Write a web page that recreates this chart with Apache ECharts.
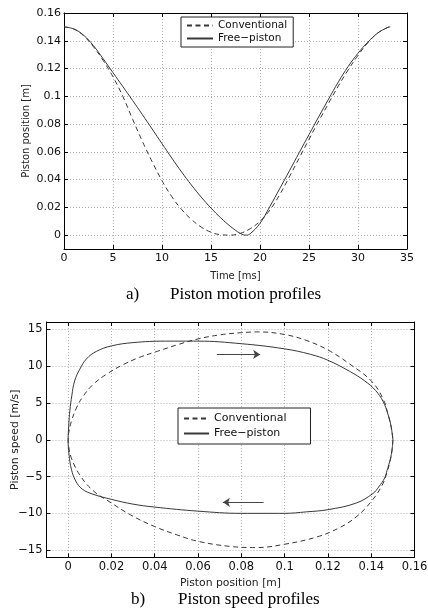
<!DOCTYPE html>
<html><head><meta charset="utf-8">
<script src="https://cdn.jsdelivr.net/npm/echarts@6/dist/echarts.min.js"></script>
<style>html,body{margin:0;padding:0;background:#fff}#c{width:428px;height:613px}</style>
</head><body><div id="c"></div>
<script>
// ---- Data: a) piston motion profiles ----
const convTime = [0,1,2,3,4,5,6,7,8,9,10,11,12,13,14,15,16,17,18,19,20,21,22,23,24,25,26,27,28,29,30,31,32,33,33.3];
const convPos  = [0.150,0.1485,0.1436,0.1357,0.1258,0.1140,0.1000,0.0835,0.0675,0.0528,0.0392,0.0277,0.0185,0.0113,0.0058,0.0021,0.0003,0.0000,0.0013,0.0046,0.0100,0.0180,0.0290,0.0420,0.0555,0.0690,0.0822,0.0950,0.1075,0.1190,0.1295,0.1385,0.1455,0.1495,0.150];
const freeTime = [0,1,2,3,4,5,6,7,8,9,10,11,12,13,14,15,16,17,18,18.6,19,20,21,22,23,24,25,26,27,28,29,30,31,32,33,33.3];
const freePos  = [0.150,0.1485,0.1440,0.1365,0.1270,0.1170,0.1070,0.0970,0.0868,0.0764,0.0659,0.0555,0.0455,0.0361,0.0274,0.0195,0.0124,0.0062,0.0012,0.0000,0.0010,0.0085,0.0205,0.0333,0.0463,0.0594,0.0724,0.0854,0.0980,0.1104,0.1215,0.1310,0.1390,0.1455,0.1495,0.150];
const posTicks = [0,0.02,0.04,0.06,0.08,0.1,0.12,0.14,0.16];

// ---- Data: b) piston speed profiles (position [m], speed [m/s]) ----
const convPhaseX = [0.150,0.1497,0.1488,0.1472,0.1450,0.140,0.133,0.125,0.115,0.100,0.087,0.075,0.060,0.050,0.040,0.030,0.020,0.0115,0.0054,0.0015,0.0003,0.000,0.0003,0.0015,0.0038,0.0069,0.0115,0.0177,0.0254,0.033,0.040,0.0515,0.060,0.070,0.080,0.088,0.100,0.110,0.120,0.130,0.140,0.1454,0.1480,0.1495,0.150];
const convPhaseV = [0,-1.2,-2.8,-4.5,-6.2,-8.4,-10.5,-12.0,-13.2,-14.2,-14.65,-14.5,-13.8,-12.9,-11.8,-10.4,-8.6,-6.9,-4.8,-2.5,-1.0,0,1.0,2.5,4.3,5.9,7.5,8.9,10.2,11.2,11.9,13.0,13.7,14.25,14.55,14.65,14.3,13.5,12.2,10.3,8.0,5.6,3.2,1.3,0];
const freePhaseX = [0.150,0.1498,0.1493,0.1485,0.1473,0.1462,0.1435,0.1408,0.1331,0.120,0.110,0.100,0.080,0.060,0.040,0.030,0.020,0.0115,0.0065,0.0035,0.0015,0.0004,0.000,0.0003,0.0008,0.0017,0.003,0.0054,0.0085,0.013,0.020,0.030,0.045,0.060,0.080,0.100,0.112,0.120,0.130,0.137,0.142,0.1455,0.1477,0.1492,0.150];
const freePhaseV = [0,-0.9,-2.0,-3.0,-4.2,-5.2,-6.4,-7.3,-8.6,-9.5,-9.8,-10.0,-10.0,-9.7,-9.15,-8.75,-8.1,-7.4,-6.7,-5.6,-4.0,-2.0,0,2.0,4.0,6.0,8.0,9.6,11.0,12.0,12.75,13.2,13.4,13.4,13.05,12.35,11.6,10.8,9.3,8.0,6.7,5.2,3.5,1.8,0];
const phaseXTicks = [0,0.02,0.04,0.06,0.08,0.1,0.12,0.14,0.16];
const speedTicks = [-15,-10,-5,0,5,10,15];
const arrowUpper = [[0.0687,11.6],[0.0887,11.6]];
const arrowLower = [[0.0903,-8.5],[0.0715,-8.5]];

const seriesNames = ['Conventional','Free\u2212piston'];
const captions = ['a)','Piston motion profiles','b)','Piston speed profiles'];

// ---- Styles ----
const SANS = 'DejaVu Sans';
const lineCol = '#383838';
const fmt = v => String(+(+v).toFixed(2)).replace('-', '\u2212');

function axis(o) {
  const fs = o.fs || 11;
  const a = {
    type: 'value', gridIndex: o.grid, min: o.min, max: o.max, position: o.pos,
    axisLine: { show: true, onZero: false, lineStyle: { color: '#000', width: 1 } },
    axisTick: { show: true, inside: true, length: 4, lineStyle: { color: '#000', width: 1 } },
    axisLabel: { show: !!o.labels, margin: o.margin || 4, fontSize: fs, color: '#111', fontFamily: SANS, formatter: fmt },
    splitLine: { show: !!o.split, lineStyle: { color: '#b0b0b0', width: 1, type: [1, 2] } },
    nameMoveOverlap: false
  };
  if (o.interval) a.interval = o.interval;
  if (o.ticks) { a.axisTick.customValues = o.ticks; a.axisLabel.customValues = o.ticks; }
  if (o.name) {
    a.name = o.name; a.nameLocation = 'middle'; a.nameGap = o.nameGap;
    a.nameTextStyle = { fontFamily: SANS, fontSize: o.nfs || 10, color: '#222' };
  }
  return a;
}

const dashed = { color: lineCol, width: 1, type: [5, 3.5] };
const solid = { color: lineCol, width: 1, type: 'solid' };
const noSym = { color: lineCol, opacity: 0 };

const chart = echarts.init(document.getElementById('c'), null, { renderer: 'canvas' });
chart.setOption({
  animation: false,
  backgroundColor: '#fff',
  grid: [
    { left: 64, top: 13, width: 343, height: 236, containLabel: false, outerBoundsMode: 'none' },
    { left: 46.5, top: 322, width: 368, height: 235.5, containLabel: false, outerBoundsMode: 'none' }
  ],
  xAxis: [
    axis({ grid: 0, min: 0, max: 35, interval: 5, pos: 'bottom', labels: true, split: true, name: 'Time [ms]', nameGap: 22, fs: 11, nfs: 10 }),
    axis({ grid: 0, min: 0, max: 35, interval: 5, pos: 'top' }),
    axis({ grid: 1, min: -0.01, max: 0.16, ticks: phaseXTicks, pos: 'bottom', labels: true, split: true, name: 'Piston position [m]', nameGap: 20, fs: 11.5, nfs: 10.8 }),
    axis({ grid: 1, min: -0.01, max: 0.16, ticks: phaseXTicks, pos: 'top' })
  ],
  yAxis: [
    axis({ grid: 0, min: -0.01, max: 0.16, ticks: posTicks, pos: 'left', labels: true, split: true, name: 'Piston position [m]', nameGap: 33, fs: 11, nfs: 10, margin: 3 }),
    axis({ grid: 0, min: -0.01, max: 0.16, ticks: posTicks, pos: 'right' }),
    axis({ grid: 1, min: -16, max: 16, ticks: speedTicks, pos: 'left', labels: true, split: true, name: 'Piston speed [m/s]', nameGap: 26, fs: 11.5, nfs: 10.8, margin: 4 }),
    axis({ grid: 1, min: -16, max: 16, ticks: speedTicks, pos: 'right' })
  ],
  legend: [
    { data: seriesNames, orient: 'vertical', left: 181, top: 17, padding: [3, 6, 3, 5], itemGap: 2,
      itemWidth: 26, itemHeight: 12, backgroundColor: '#fff', borderColor: '#222', borderWidth: 1, borderRadius: 0,
      itemStyle: { opacity: 0, borderWidth: 0 },
      selectedMode: false, textStyle: { fontFamily: SANS, fontSize: 10.5, color: '#111' } },
    { data: seriesNames, orient: 'vertical', left: 178, top: 408, padding: [5, 24, 5, 5], itemGap: 4,
      itemWidth: 25, itemHeight: 12, backgroundColor: '#fff', borderColor: '#222', borderWidth: 1, borderRadius: 0,
      itemStyle: { opacity: 0, borderWidth: 0 },
      selectedMode: false, textStyle: { fontFamily: SANS, fontSize: 11, color: '#111' } }
  ],
  series: [
    { type: 'line', name: seriesNames[0], xAxisIndex: 0, yAxisIndex: 0, symbol: 'none', smooth: 0.4,
      data: convTime.map((t, i) => [t, convPos[i]]), lineStyle: dashed, itemStyle: noSym, z: 3 },
    { type: 'line', name: seriesNames[1], xAxisIndex: 0, yAxisIndex: 0, symbol: 'none', smooth: 0.4,
      data: freeTime.map((t, i) => [t, freePos[i]]), lineStyle: solid, itemStyle: noSym, z: 3 },
    { type: 'line', name: seriesNames[0], xAxisIndex: 2, yAxisIndex: 2, symbol: 'none', smooth: 0.4,
      data: convPhaseX.map((x, i) => [x, convPhaseV[i]]), lineStyle: dashed, itemStyle: noSym, z: 3 },
    { type: 'line', name: seriesNames[1], xAxisIndex: 2, yAxisIndex: 2, symbol: 'none', smooth: 0.4,
      data: freePhaseX.map((x, i) => [x, freePhaseV[i]]), lineStyle: solid, itemStyle: noSym, z: 3,
      markLine: { silent: true, symbol: ['none', 'arrow'], symbolSize: 7, label: { show: false },
        emphasis: { disabled: true }, animation: false,
        itemStyle: { color: '#444', opacity: 1 },
        lineStyle: { color: '#444', width: 1.2, type: 'solid', opacity: 1 },
        data: [
          [{ coord: arrowUpper[0] }, { coord: arrowUpper[1] }],
          [{ coord: arrowLower[0] }, { coord: arrowLower[1] }]
        ] } }
  ],
  graphic: [
    { type: 'text', x: 126, y: 295, style: { text: captions[0], font: '17px "Liberation Serif"', fill: '#000', verticalAlign: 'middle' } },
    { type: 'text', x: 170, y: 295, style: { text: captions[1], font: '17px "Liberation Serif"', fill: '#000', verticalAlign: 'middle' } },
    { type: 'text', x: 131, y: 600, style: { text: captions[2], font: '17px "Liberation Serif"', fill: '#000', verticalAlign: 'middle' } },
    { type: 'text', x: 178, y: 600, style: { text: captions[3], font: '17px "Liberation Serif"', fill: '#000', verticalAlign: 'middle' } }
  ]
});
</script></body></html>
